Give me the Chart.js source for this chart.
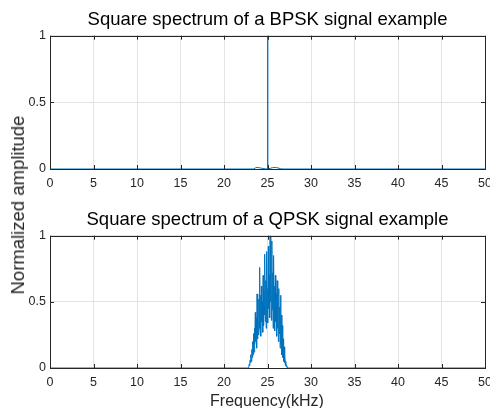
<!DOCTYPE html>
<html>
<head>
<meta charset="utf-8">
<script src="https://cdn.jsdelivr.net/npm/chart.js@4/dist/chart.umd.min.js"></script>
<style>
  body { margin: 0; background: #fff; width: 490px; height: 408px; position: relative; overflow: hidden; }
  .panel { position: absolute; left: 0; width: 490px; }
  #top { top: 0; height: 200px; }
  #bot { top: 200px; height: 208px; }
  #ylab {
    position: absolute; left: 18px; top: 205px;
    transform: translate(-50%, -50%) rotate(-90deg);
    font: 18.5px "Liberation Sans", Arial, sans-serif; color: #262626; white-space: nowrap;
  }
  #xlab {
    position: absolute; left: 267px; top: 392px; line-height: 16px;
    transform: translateX(-50%);
    font: 16px "Liberation Sans", Arial, sans-serif; color: #262626; white-space: nowrap;
  }
</style>
</head>
<body>
<div class="panel" id="top"><canvas id="bpsk"></canvas></div>
<div class="panel" id="bot"><canvas id="qpsk"></canvas></div>
<div id="ylab">Normalized amplitude</div>
<div id="xlab">Frequency(kHz)</div>
<script>
var xTicks = [0, 5, 10, 15, 20, 25, 30, 35, 40, 45, 50];
var yTicks = [0, 0.5, 1];

// BPSK: one line at 25 kHz with tiny side lobes
var bpskFreq = [0, 23.4, 23.6, 23.8, 24.0, 24.3, 24.6, 24.95, 25.0, 25.05, 25.3, 25.6, 25.9, 26.2, 26.5, 26.8, 50];
var bpskAmp  = [0, 0, 0.008, 0.012, 0.01, 0.006, 0.002, 0, 1, 0, 0.005, 0.01, 0.012, 0.008, 0.002, 0, 0];

// QPSK: noisy band between ~22.8 and ~27.3 kHz
var qpskFreq = [0,
  22.80, 22.85, 22.90, 22.95, 23.00, 23.05, 23.10, 23.15, 23.20, 23.25,
  23.30, 23.35, 23.40, 23.45, 23.50, 23.55, 23.60, 23.65, 23.70, 23.75,
  23.80, 23.85, 23.90, 23.95, 24.00, 24.05, 24.10, 24.15, 24.20, 24.25,
  24.30, 24.35, 24.40, 24.45, 24.50, 24.55, 24.60, 24.65, 24.70, 24.75,
  24.80, 24.85, 24.90, 24.95, 25.00, 25.05, 25.10, 25.15, 25.20, 25.25,
  25.30, 25.35, 25.40, 25.45, 25.50, 25.55, 25.60, 25.65, 25.70, 25.75,
  25.80, 25.85, 25.90, 25.95, 26.00, 26.05, 26.10, 26.15, 26.20, 26.25,
  26.30, 26.35, 26.40, 26.45, 26.50, 26.55, 26.60, 26.65, 26.70, 26.75,
  26.80, 26.85, 26.90, 26.95, 27.00, 27.05, 27.10, 27.15, 27.20, 27.25,
  27.30, 50];
var qpskAmp = [0,
  0, 0.01, 0.03, 0.02, 0.06, 0.04, 0.10, 0.05, 0.14, 0.08,
  0.20, 0.10, 0.26, 0.12, 0.30, 0.18, 0.42, 0.20, 0.38, 0.15,
  0.56, 0.22, 0.48, 0.25, 0.52, 0.30, 0.76, 0.28, 0.55, 0.24,
  0.62, 0.35, 0.50, 0.27, 0.70, 0.32, 0.58, 0.40, 0.86, 0.35,
  0.66, 0.30, 0.88, 0.42, 0.60, 0.34, 0.92, 0.45, 0.70, 0.38,
  1.00, 0.50, 0.82, 0.36, 0.96, 0.44, 0.72, 0.30, 0.85, 0.40,
  0.62, 0.28, 0.70, 0.35, 0.56, 0.24, 0.66, 0.30, 0.50, 0.20,
  0.60, 0.26, 0.46, 0.15, 0.55, 0.18, 0.40, 0.10, 0.32, 0.08,
  0.22, 0.05, 0.16, 0.04, 0.10, 0.02, 0.05, 0.01, 0.02, 0.005,
  0, 0];

var FONT = "'Liberation Sans', Arial, sans-serif";
var AXIS = '#262626';

// MATLAB style box with inward ticks
var boxPlugin = {
  id: 'matlabBox',
  afterDraw(chart) {
    var a = chart.chartArea, c = chart.ctx;
    var xs = chart.scales.x, ys = chart.scales.y;
    c.save();
    c.strokeStyle = AXIS;
    c.lineWidth = 1;
    c.beginPath();
    for (var v of xTicks) {
      var px = Math.round(xs.getPixelForValue(v)) + 0.5;
      c.moveTo(px, a.bottom); c.lineTo(px, a.bottom - 4);
      c.moveTo(px, a.top); c.lineTo(px, a.top + 4);
    }
    for (var v of yTicks) {
      var py = Math.round(ys.getPixelForValue(v)) + 0.5;
      c.moveTo(a.left, py); c.lineTo(a.left + 4, py);
      c.moveTo(a.right, py); c.lineTo(a.right - 4, py);
    }
    c.stroke();
    c.strokeRect(Math.round(a.left) + 0.5, Math.round(a.top) + 0.5,
      Math.round(a.right - a.left), Math.round(a.bottom - a.top));
    c.restore();
  }
};

function makeChart(id, title, freq, amp, xHeight) {
  var pts = freq.map((f, i) => ({x: f, y: amp[i]}));
  return new Chart(document.getElementById(id), {
    type: 'line',
    data: {
      datasets: [{
        data: pts,
        borderColor: '#0072BD',
        borderWidth: 1,
        pointRadius: 0,
        tension: 0,
        fill: false
      }]
    },
    options: {
      responsive: true,
      maintainAspectRatio: false,
      animation: false,
      layout: { padding: { left: 0, right: 5, top: 0, bottom: 0 } },
      plugins: {
        legend: { display: false },
        tooltip: { enabled: false },
        title: {
          display: true,
          text: title,
          fullSize: false,
          color: '#000',
          font: { family: FONT, size: 18.5, weight: 'normal' },
          padding: { top: 8.5, bottom: 5 }
        }
      },
      scales: {
        x: {
          type: 'linear',
          min: 0, max: 50,
          afterBuildTicks: (s) => { s.ticks = xTicks.map(v => ({value: v})); },
          afterFit: (s) => { s.height = xHeight; s.paddingLeft = 0; s.paddingRight = 0; },
          grid: { color: '#e3e3e3', drawTicks: false },
          border: { display: false },
          ticks: { color: AXIS, font: { family: FONT, size: 12.5 }, padding: 7, maxRotation: 0 }
        },
        y: {
          min: 0, max: 1,
          afterBuildTicks: (s) => { s.ticks = yTicks.map(v => ({value: v})); },
          afterFit: (s) => { s.width = 50; s.paddingTop = 0; s.paddingBottom = 0; },
          grid: { color: '#e3e3e3', drawTicks: false },
          border: { display: false },
          ticks: { color: AXIS, font: { family: FONT, size: 12.5 }, padding: 4,
                   callback: (v) => String(v) }
        }
      }
    },
    plugins: [boxPlugin]
  });
}

makeChart('bpsk', 'Square spectrum of a BPSK signal example', bpskFreq, bpskAmp, 31);
makeChart('qpsk', 'Square spectrum of a QPSK signal example', qpskFreq, qpskAmp, 40);
</script>
</body>
</html>
